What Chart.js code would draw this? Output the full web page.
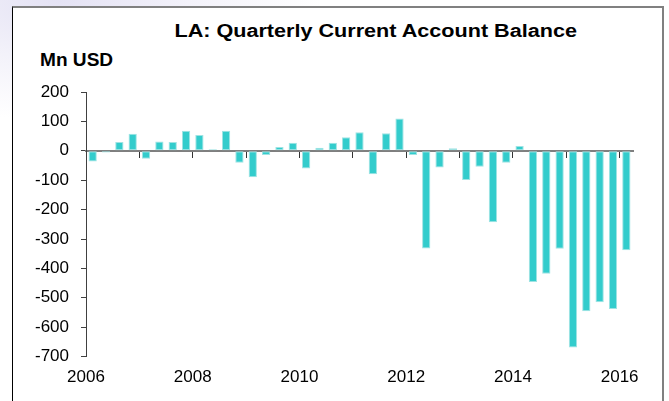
<!DOCTYPE html>
<html>
<head>
<meta charset="utf-8">
<script src="https://cdn.jsdelivr.net/npm/chart.js@4.4.1/dist/chart.umd.min.js"></script>
<style>
  html, body { margin: 0; padding: 0; }
  body {
    width: 669px; height: 401px; overflow: hidden; position: relative;
    background: radial-gradient(ellipse 260px 120px at 60px 0px, #e4e2f4 0%, #f3f2fa 50%, #ffffff 100%);
    font-family: "Liberation Sans", Arial, sans-serif;
  }
  #frame {
    position: absolute; left: 12px; top: 6px; width: 649px; height: 420px;
    background: #fff;
    border-left: 1px solid #000;
    border-top: 2px solid #808080;
    border-right: 2px solid #808080;
  }
  #title {
    position: absolute; left: 0; top: 21px; width: 669px;
    padding-left: 82px; box-sizing: border-box;
    text-align: center; font-weight: bold; font-size: 18px; color: #000;
  }
  #title span { display: inline-block; transform: scaleX(1.2); }
  #unit {
    position: absolute; left: 40px; top: 50px;
    font-weight: bold; font-size: 18px; color: #000;
    transform-origin: left center; transform: scaleX(1.06);
  }
  #wrap { position: absolute; left: 0; top: 0; width: 669px; height: 401px; }
</style>
</head>
<body>
<div id="frame"></div>
<div id="title"><span>LA: Quarterly Current Account Balance</span></div>
<div id="unit">Mn USD</div>
<div id="wrap"><canvas id="canvas" width="669" height="401"></canvas></div>
<script>
// quarters 2006Q1 .. 2016Q1
const quarters = [];
for (let yr = 2006; yr <= 2016; yr++) {
    for (let q = 1; q <= 4; q++) {
        if (yr === 2016 && q > 1) break;
        quarters.push(yr + 'Q' + q);
    }
}

// Mn USD
const balance = [
    -36, -6, 30, 58,
    -27, 32, 30, 68,
    54, 5, 68, -41,
    -90, -14, 13, 27,
    -60, 10, 27, 46,
    63, -80, 60, 110,
    -14, -332, -57, 9,
    -99, -54, -243, -41,
    16, -446, -418, -333,
    -669, -546, -515, -538,
    -338
];

const yearTicks = [2006, 2008, 2010, 2012, 2014, 2016];
const yMin = -700, yMax = 200, yStep = 100;

const font = { family: '"Liberation Sans", Arial, sans-serif', size: 17 };

const ctx = document.getElementById('canvas').getContext('2d');
const chart = new Chart(ctx, {
    type: 'bar',
    data: {
        labels: quarters,
        datasets: [{
            data: balance,
            backgroundColor: '#33cccc',
            borderColor: '#9fe3e3',
            borderWidth: 1,
            borderSkipped: 'middle',
            barPercentage: 0.62,
            categoryPercentage: 1.0
        }]
    },
    options: {
        responsive: false,
        animation: false,
        layout: { padding: { left: 26, right: 36, top: 92, bottom: 2 } },
        plugins: { legend: { display: false }, tooltip: { enabled: false }, title: { display: false } },
        scales: {
            x: {
                type: 'category',
                position: { y: 0 },
                offset: true,
                grid: {
                    offset: true,
                    drawOnChartArea: false,
                    drawTicks: true,
                    tickLength: 6,
                    lineWidth: 1,
                    color: (c) => (c.index % 4 === 0 && c.index > 0 && c.index < quarters.length) ? '#333333' : 'rgba(0,0,0,0)'
                },
                border: { display: true, color: '#7f7f7f', width: 2 },
                ticks: { display: false }
            },
            years: {
                type: 'linear',
                axis: 'x',
                position: 'bottom',
                offset: false,
                min: 2006,
                max: 2006 + quarters.length / 4,
                afterBuildTicks: (s) => { s.ticks = yearTicks.map(v => ({ value: v })); },
                grid: { display: false, drawTicks: false, offset: false },
                border: { display: false },
                ticks: {
                    color: '#000',
                    font: font,
                    padding: 11,
                    maxRotation: 0,
                    autoSkip: false,
                    callback: (v) => String(v)
                }
            },
            y: {
                min: yMin,
                max: yMax,
                ticks: { stepSize: yStep, color: '#000', font: font, padding: 12 },
                afterFit: (s) => { s.width = 60; },
                grid: { drawOnChartArea: false, tickLength: 5, color: '#404040', lineWidth: 1 },
                border: { display: true, color: '#404040', width: 1 }
            }
        }
    }
});
</script>
</body>
</html>
